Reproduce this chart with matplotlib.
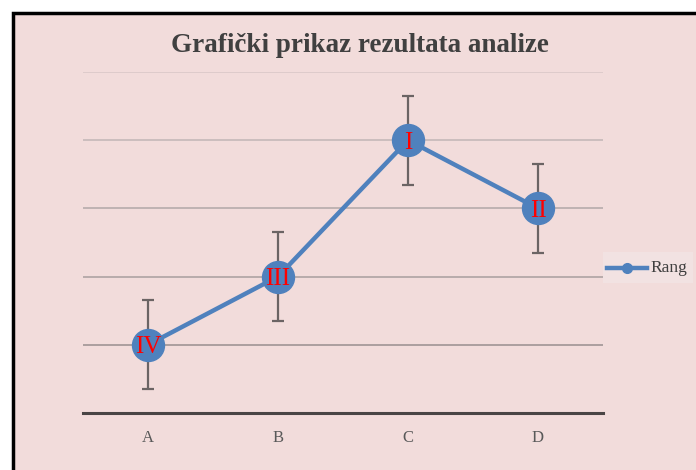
import matplotlib
matplotlib.use("Agg")
import matplotlib.pyplot as plt
from matplotlib.patches import Rectangle

kategorije = ["A", "B", "C", "D"]
vrijednosti = [1, 2, 4, 3]
greske = [0.65, 0.65, 0.65, 0.65]
rangovi = ["IV", "III", "I", "II"]
naslov = "Grafički prikaz rezultata analize"

ROZA = "#F2DCDB"
PLAVA = "#4F81BD"
SERIF = ["Liberation Serif", "DejaVu Serif"]

W, H = 696, 470
fig = plt.figure(figsize=(W / 100, H / 100), dpi=100)
fig.patch.set_facecolor("white")

# okvir grafikona (desni i donji rub su odrezani)
fig.patches.append(Rectangle((12.5 / W, -0.1), 1.2, 1 - 12.5 / H + 0.1,
                             transform=fig.transFigure, facecolor=ROZA,
                             edgecolor="black", linewidth=2.5, zorder=-5))

ax = fig.add_axes([83 / W, 1 - 413 / H, 520 / W, (413 - 72) / H])
ax.set_facecolor("none")

x = list(range(len(kategorije)))
ax.set_xlim(-0.5, len(kategorije) - 0.5)
ax.set_ylim(0, 5)

boje_mreze = {1: "#A69A9A", 2: "#B3A7A7", 3: "#BBAFAF", 4: "#C8BBBB", 5: "#DCCACA"}
for y, c in boje_mreze.items():
    ax.axhline(y, color=c, linewidth=1.3, zorder=1)

ax.errorbar(x, vrijednosti, yerr=greske, fmt="none", ecolor="#6B6464",
            elinewidth=1.6, capsize=4, capthick=1.6, zorder=2)
ax.plot(x, vrijednosti, "-o", color=PLAVA, linewidth=3.2, markersize=23,
        zorder=3)
for xi, yi, r in zip(x, vrijednosti, rangovi):
    ax.text(xi, yi, r, color="red", fontsize=18, family=SERIF,
            ha="center", va="center_baseline", zorder=4)

for s in ["left", "right", "top"]:
    ax.spines[s].set_visible(False)
ax.spines["bottom"].set_color("#4A4545")
ax.spines["bottom"].set_linewidth(2.2)
ax.set_yticks([])
ax.set_xticks(x)
ax.set_xticklabels(kategorije, family=SERIF, fontsize=12, color="#595959")
ax.tick_params(axis="x", length=0, pad=12)

fig.text(360 / W, 1 - 45 / H, naslov, family=SERIF, fontsize=19.5,
         fontweight="bold", color="#404040", ha="center", va="center")

# legenda
leg_ax = fig.add_axes([603 / W, 1 - 283 / H, 90 / W, 31 / H])
leg_ax.set_facecolor("#F2E2E2")
leg_ax.set_xticks([])
leg_ax.set_yticks([])
for s in leg_ax.spines.values():
    s.set_visible(False)
leg_ax.set_xlim(0, 90)
leg_ax.set_ylim(0, 31)
leg_ax.plot([4, 44], [15.5, 15.5], color=PLAVA, linewidth=3.2)
leg_ax.plot([24], [15.5], "o", color=PLAVA, markersize=7)
leg_ax.text(47, 15.5, "Rang", family=SERIF, fontsize=12.5, color="#404040",
            va="center", ha="left")

fig.savefig("out.png", dpi=100, facecolor=fig.get_facecolor())
